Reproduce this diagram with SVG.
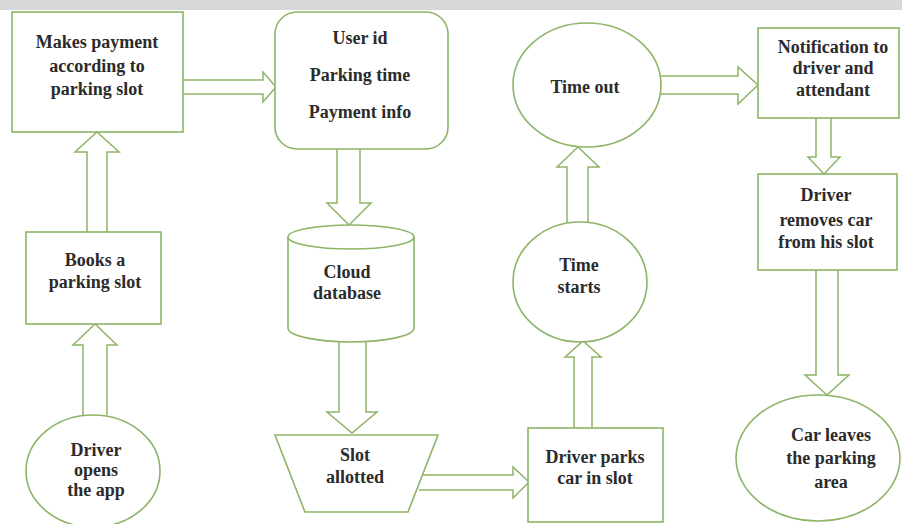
<svg xmlns="http://www.w3.org/2000/svg" width="902" height="524" viewBox="0 0 902 524">
<style>
.n{fill:#fff;stroke:#8db467;stroke-width:1.6}
.a{fill:#fff;stroke:#8db467;stroke-width:1.5;stroke-linejoin:miter}
text{font-family:"Liberation Serif","Times New Roman",serif;font-weight:bold;font-size:18px;fill:#2b2b2b;text-anchor:middle;dominant-baseline:central}
</style>
<rect x="0" y="0" width="902" height="524" fill="#fff"/>
<rect x="0" y="0" width="902" height="10" fill="#d8d8d8"/>
<g id="connectors">
<path class="a" d="M83,415 V345 H73 L95,324 L117,345 H107 V415"/>
<path class="a" d="M87,232 V152 H75 L97,132 L119,152 H107 V232"/>
<path class="a" d="M183,80 H263 V72 L276,87 L263,102 V94 H183"/>
<path class="a" d="M337,149 V203 H327 L349,225 L371,203 H360 V149"/>
<path class="a" d="M339,342 V412 H327 L352,433 L377,412 H366 V342"/>
<path class="a" d="M419,475 H513 V467 L529,482 L513,498 V490 H419"/>
<path class="a" d="M574,428 V357 H565 L583,341 L601,357 H592 V428"/>
<path class="a" d="M567,223 V167 H557 L578,147 L599,167 H588 V223"/>
<path class="a" d="M661,76 H738 V67 L758,85 L738,104 V94 H661"/>
<path class="a" d="M816,118 V157 H808 L824,174 L840,157 H831 V118"/>
<path class="a" d="M816,270 V375 H805 L827,395 L849,375 H838 V270"/>
</g>
<g id="makes-payment">
<rect class="n" x="12" y="12" width="171" height="120"/>
<text x="97" y="42">Makes payment</text>
<text x="97" y="66">according to</text>
<text x="97" y="89">parking slot</text>
</g>
<g id="user-info">
<rect class="n" x="275" y="12" width="173" height="137" rx="22"/>
<text x="360" y="38">User id</text>
<text x="360" y="75">Parking time</text>
<text x="360" y="112">Payment info</text>
</g>
<g id="time-out">
<ellipse class="n" cx="587" cy="85" rx="74" ry="62"/>
<text x="585" y="87">Time out</text>
</g>
<g id="notification">
<rect class="n" x="758" y="28" width="141" height="90"/>
<text x="833" y="47">Notification to</text>
<text x="833" y="68">driver and</text>
<text x="833" y="90">attendant</text>
</g>
<g id="books-slot">
<rect class="n" x="26" y="232" width="135" height="92"/>
<text x="95" y="260">Books a</text>
<text x="95" y="282">parking slot</text>
</g>
<g id="driver-opens">
<ellipse class="n" cx="93" cy="471" rx="67" ry="56"/>
<text x="96" y="450">Driver</text>
<text x="96" y="470">opens</text>
<text x="96" y="490">the app</text>
</g>
<g id="cloud-database">
<path class="n" d="M288,237 V328 A63,14 0 0 0 414,328 V237"/>
<ellipse class="n" cx="351" cy="237" rx="63" ry="12"/>
<text x="347" y="272">Cloud</text>
<text x="347" y="293">database</text>
</g>
<g id="slot-allotted">
<polygon class="n" points="275,435 438,435 408,512 305,512"/>
<text x="355" y="455">Slot</text>
<text x="355" y="477">allotted</text>
</g>
<g id="driver-parks">
<rect class="n" x="528" y="428" width="135" height="94"/>
<text x="595" y="457">Driver parks</text>
<text x="595" y="478">car in slot</text>
</g>
<g id="time-starts">
<ellipse class="n" cx="580" cy="282" rx="67" ry="60"/>
<text x="579" y="265">Time</text>
<text x="579" y="287">starts</text>
</g>
<g id="driver-removes">
<rect class="n" x="758" y="174" width="139" height="96"/>
<text x="826" y="195">Driver</text>
<text x="826" y="220">removes car</text>
<text x="826" y="242">from his slot</text>
</g>
<g id="car-leaves">
<ellipse class="n" cx="818" cy="458" rx="82" ry="63"/>
<text x="831" y="435">Car leaves</text>
<text x="831" y="458">the parking</text>
<text x="831" y="482">area</text>
</g>
</svg>
